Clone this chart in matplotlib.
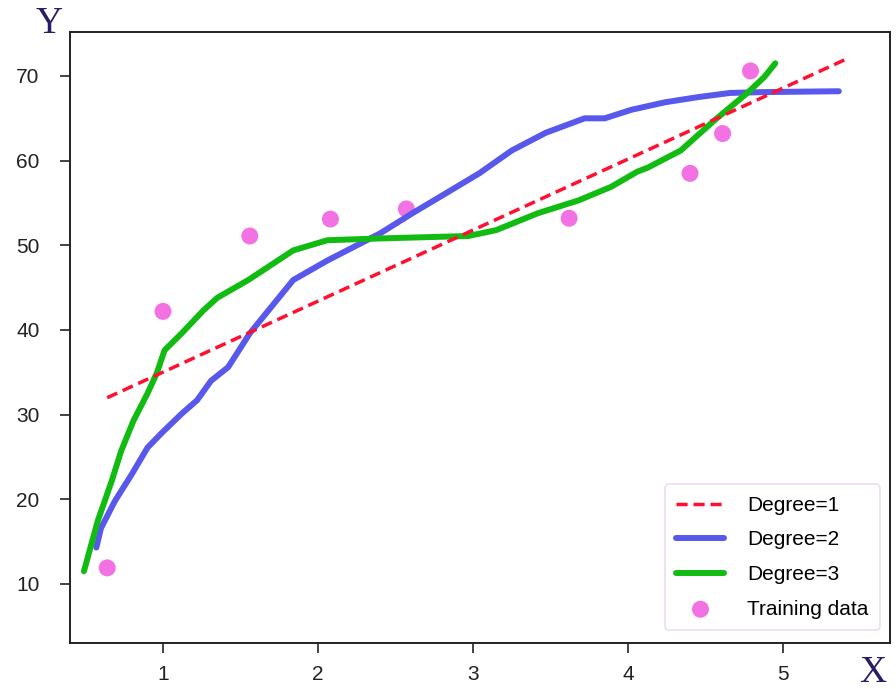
import matplotlib.pyplot as plt

# training samples
train_x = [0.64, 1.00, 1.56, 2.08, 2.57, 3.62, 4.40, 4.61, 4.79]
train_y = [11.9, 42.2, 51.1, 53.1, 54.3, 53.2, 58.5, 63.2, 70.6]

# degree 1 fit (straight line)
deg1_x = [0.64, 5.42]
deg1_y = [32.0, 72.1]

# degree 2 fit
deg2_x = [0.57, 0.60, 0.69, 0.80, 0.90, 0.99, 1.12, 1.22, 1.31, 1.42, 1.56, 1.84,
          2.06, 2.40, 2.61, 2.83, 3.04, 3.25, 3.47, 3.72, 3.85, 4.02, 4.24,
          4.45, 4.66, 4.88, 5.36]
deg2_y = [14.3, 16.6, 19.8, 23.0, 26.1, 27.8, 30.1, 31.7, 34.0, 35.6, 39.6, 45.9,
          48.2, 51.4, 53.8, 56.2, 58.5, 61.2, 63.3, 65.0, 65.0, 66.0, 66.9,
          67.5, 68.0, 68.1, 68.2]

# degree 3 fit
deg3_x = [0.49, 0.58, 0.67, 0.73, 0.81, 0.90, 0.96, 1.01, 1.12, 1.26, 1.35, 1.55,
          1.84, 2.06, 2.38, 2.97, 3.15, 3.42, 3.68, 3.89, 4.06, 4.13, 4.34,
          4.56, 4.77, 4.88, 4.95]
deg3_y = [11.5, 17.5, 22.2, 25.7, 29.3, 32.5, 34.9, 37.6, 39.6, 42.3, 43.8, 45.9,
          49.4, 50.6, 50.8, 51.1, 51.8, 53.8, 55.3, 56.9, 58.7, 59.2, 61.2,
          64.8, 68.0, 69.9, 71.5]

plt.rcParams["font.family"] = ["Liberation Sans", "DejaVu Sans"]

fig = plt.figure(figsize=(8.96, 6.89), dpi=100)
ax = fig.add_axes([0.0781, 0.0668, 0.9152, 0.8868])

ax.plot(deg1_x, deg1_y, color="#ff1030", lw=2.5, ls=(0, (3.2, 1.7)), label="Degree=1", zorder=3)
ax.plot(deg2_x, deg2_y, color="#5858ec", lw=4.3, solid_capstyle="round",
        solid_joinstyle="round", label="Degree=2", zorder=2)
ax.plot(deg3_x, deg3_y, color="#12bb12", lw=4.3, solid_capstyle="round",
        solid_joinstyle="round", label="Degree=3", zorder=2)
ax.scatter(train_x, train_y, s=150, color="#f272e4", edgecolors="none", label="Training data", zorder=1)

ax.set_xlim(0.40, 5.69)
ax.set_ylim(3.03, 75.2)
ax.set_xticks([1, 2, 3, 4, 5])
ax.set_yticks([10, 20, 30, 40, 50, 60, 70])
ax.tick_params(direction="out", length=7, width=1.2, labelsize=15, colors="#222222")
ax.tick_params(axis="y", pad=15)
ax.tick_params(axis="x", pad=9)
for side in ax.spines.values():
    side.set_linewidth(1.4)
    side.set_color("#222222")

fig.text(0.055, 0.966, "Y", family="Liberation Serif", fontsize=27, color="#2a1d66", ha="center", va="center")
fig.text(0.974, 0.024, "X", family="Liberation Serif", fontsize=27, color="#2a1d66", ha="center", va="center")

leg = ax.legend(loc="lower right", fontsize=15, frameon=True, fancybox=True,
                borderpad=0.55, labelspacing=0.75, handlelength=2.3, handletextpad=1.1,
                bbox_to_anchor=(0.988, 0.021), borderaxespad=0)
leg.get_frame().set_edgecolor("#e8d4ec")
leg.get_frame().set_linewidth(1.2)

fig.savefig("out.png", dpi=100)
